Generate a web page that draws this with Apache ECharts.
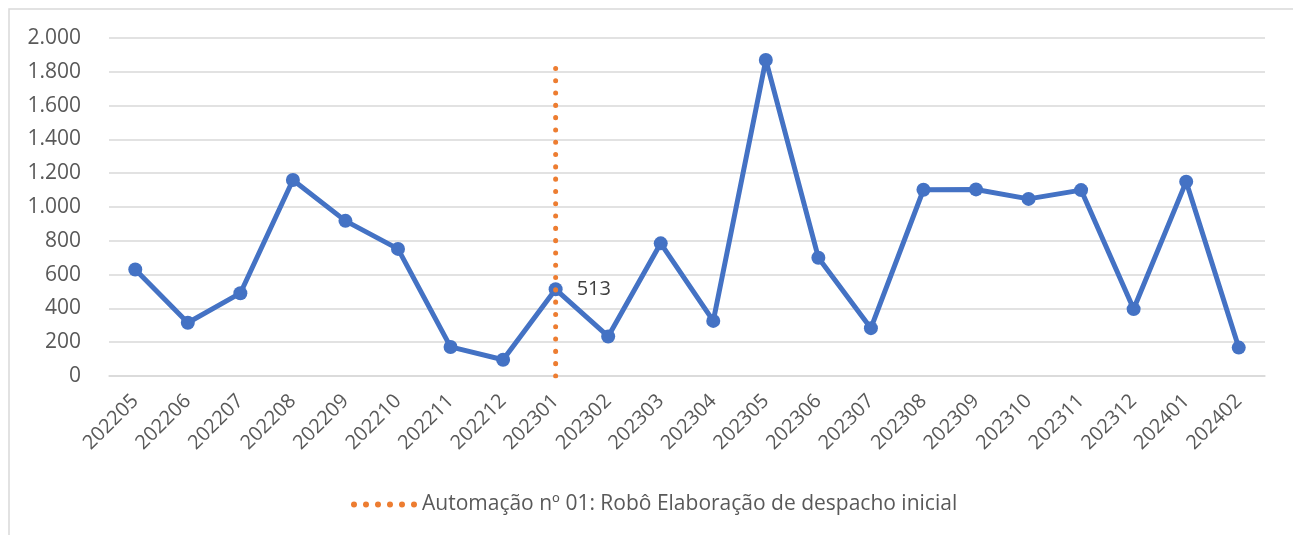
<!DOCTYPE html>
<html>
<head>
<meta charset="utf-8">
<script src="https://cdn.jsdelivr.net/npm/echarts@6/dist/echarts.min.js"></script>
<style>
  html, body { margin: 0; padding: 0; background: #fff; }
  #chart { width: 1293px; height: 535px; }
</style>
</head>
<body>
<div id="chart"></div>
<script>
// meses (AAAAMM)
const months = ['202205', '202206', '202207', '202208', '202209', '202210', '202211', '202212',
    '202301', '202302', '202303', '202304', '202305', '202306', '202307', '202308',
    '202309', '202310', '202311', '202312', '202401', '202402'];
// quantidade mensal
const totals = [630, 315, 490, 1160, 918, 752, 172, 96, 513, 234, 785, 326, 1870, 700,
    283, 1102, 1104, 1048, 1100, 396, 1150, 168];
// marco da automação
const markerMonth = '202301';
const markerRange = [0, 1820];
const markerName = 'Automação nº 01: Robô Elaboração de despacho inicial';
const labelIndex = 8;

const FONT = '"Open Sans", sans-serif';

document.addEventListener('DOMContentLoaded', function() {
    const chart = echarts.init(document.getElementById('chart'));

    // ícone da legenda: seis pontos
    let dots = '';
    for (let i = 0; i < 6; i++) {
        const cx = 3 + i * 12;
        dots += 'M' + (cx - 3) + ',3a3,3 0 1,0 6,0a3,3 0 1,0 -6,0Z';
    }

    const option = {
        animation: false,
        textStyle: { fontFamily: FONT },
        graphic: [{
            type: 'rect',
            shape: { x: 9, y: 9, width: 1320, height: 600 },
            style: { fill: 'none', stroke: '#D9D9D9', lineWidth: 1.5 },
            silent: true
        }],
        grid: {
            left: 109,
            right: 28,
            top: 38,
            bottom: 159
        },
        legend: {
            data: [{ name: markerName, icon: 'path://' + dots }],
            top: 489,
            left: 346,
            itemWidth: 66,
            itemHeight: 6,
            textStyle: { color: '#595959', fontSize: 21, fontFamily: FONT }
        },
        xAxis: {
            type: 'category',
            data: months,
            boundaryGap: true,
            axisLine: { lineStyle: { color: '#D9D9D9', width: 1.5 } },
            axisTick: { show: false },
            axisLabel: {
                rotate: 45,
                interval: 0,
                margin: 22,
                color: '#595959',
                fontSize: 20,
                fontFamily: FONT
            }
        },
        yAxis: {
            type: 'value',
            min: 0,
            max: 2000,
            interval: 200,
            axisLine: { show: false },
            axisTick: { show: false },
            splitLine: { lineStyle: { color: '#D9D9D9', width: 1.5 } },
            axisLabel: {
                margin: 28,
                color: '#595959',
                fontSize: 21,
                fontFamily: FONT,
                formatter: function(v) {
                    return v.toLocaleString('pt-BR');
                }
            }
        },
        series: [{
            name: 'Total',
            type: 'line',
            data: totals.map(function(v, i) {
                if (i === labelIndex) {
                    return {
                        value: v,
                        label: {
                            show: true,
                            position: 'right',
                            distance: 14,
                            color: '#404040',
                            fontSize: 20,
                            fontFamily: FONT
                        }
                    };
                }
                return v;
            }),
            symbol: 'circle',
            symbolSize: 14,
            itemStyle: { color: '#4472C4' },
            lineStyle: { color: '#4472C4', width: 5 },
            z: 2
        }, {
            name: markerName,
            type: 'line',
            data: [[markerMonth, markerRange[0]], [markerMonth, markerRange[1]]],
            symbol: 'none',
            itemStyle: { color: '#ED7D31' },
            lineStyle: { color: '#ED7D31', width: 5, type: [0.1, 12.2], cap: 'round' },
            z: 3
        }]
    };

    chart.setOption(option);

    window.addEventListener('resize', function() {
        chart.resize();
    });
});
</script>
</body>
</html>
